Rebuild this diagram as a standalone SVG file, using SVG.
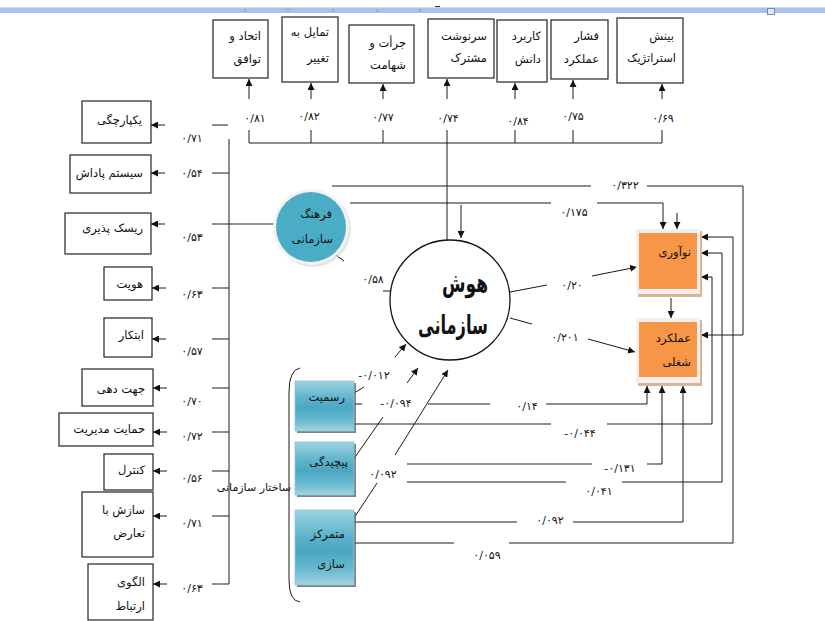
<svg xmlns="http://www.w3.org/2000/svg" width="825" height="621" viewBox="0 0 825 621">
<style>
.t{font-family:"DejaVu Sans",sans-serif;font-size:11.5px;fill:#111;text-anchor:end}
.n{font-family:"DejaVu Sans",sans-serif;font-size:11px;fill:#111;text-anchor:middle}
.box{fill:#fff;stroke:#222;stroke-width:1.2}
.ln{fill:none;stroke:#1a1a1a;stroke-width:1}
.ar{marker-end:url(#ah)}
.big{font-family:"DejaVu Sans",sans-serif;font-size:26px;font-weight:bold;fill:#111;text-anchor:end}
</style>
<defs>
<marker id="ah" viewBox="0 0 10 10" refX="10" refY="5" markerWidth="7" markerHeight="7" markerUnits="userSpaceOnUse" orient="auto">
<path d="M0,0 L10,5 L0,10 z" fill="#111"/>
</marker>
<linearGradient id="teal" x1="0" y1="0" x2="0" y2="1">
<stop offset="0" stop-color="#9fd3e1"/>
<stop offset="0.35" stop-color="#5db3cb"/>
<stop offset="0.55" stop-color="#4aa7c2"/>
<stop offset="0.8" stop-color="#6bbad0"/>
<stop offset="1" stop-color="#a2d4e2"/>
</linearGradient>
</defs>
<rect width="825" height="621" fill="#fff"/>
<!-- top ruler -->
<g id="ruler">
<rect x="0" y="7" width="825" height="6" fill="#a8c3e7"/>
<line x1="0" y1="7.5" x2="825" y2="7.5" stroke="#cbdaf0" stroke-width="1"/>
<g stroke="#8a9bb3" stroke-width="1">
<line x1="245" y1="9" x2="245" y2="12"/><line x1="288" y1="9" x2="288" y2="12"/><line x1="333" y1="9" x2="333" y2="12"/><line x1="377" y1="9" x2="377" y2="12"/><line x1="420" y1="9" x2="420" y2="12"/>
</g>
<line x1="435" y1="6.5" x2="440" y2="6.5" stroke="#333" stroke-width="1"/>
<rect x="767.5" y="8.5" width="7" height="6" fill="#dfe8f5" stroke="#7a8aa0" stroke-width="1"/>
</g>

<g id="connectors">
<!-- top arrows -->
<line class="ln ar" x1="249" y1="99" x2="249" y2="79"/>
<line class="ln ar" x1="311" y1="99" x2="311" y2="83"/>
<line class="ln ar" x1="383" y1="99" x2="383" y2="84"/>
<line class="ln ar" x1="447" y1="99" x2="447" y2="79"/>
<line class="ln ar" x1="515" y1="99" x2="515" y2="83"/>
<line class="ln ar" x1="573" y1="99" x2="573" y2="80"/>
<line class="ln ar" x1="662" y1="99" x2="662" y2="84"/>
<path class="ln" d="M249,130V143M311,130V143M383,130V143M515,130V143M573,130V143M662,130V143M447,130V240M249,143H662"/>
<!-- left bus -->
<path class="ln" d="M229,139V584M212,125H228M212,173H229M212,224H274M212,288H229M212,339H229M212,388H229M212,432H229M212,471H229M212,516H229M212,584H229"/>
<line class="ln ar" x1="165" y1="125" x2="151" y2="125"/>
<line class="ln ar" x1="165" y1="173" x2="151" y2="173"/>
<line class="ln ar" x1="165" y1="224" x2="151" y2="224"/>
<line class="ln ar" x1="166" y1="288" x2="152" y2="288"/>
<line class="ln ar" x1="166" y1="339" x2="152" y2="339"/>
<line class="ln ar" x1="167" y1="388" x2="153" y2="388"/>
<line class="ln ar" x1="167" y1="432" x2="153" y2="432"/>
<line class="ln ar" x1="167" y1="471" x2="153" y2="471"/>
<line class="ln ar" x1="167" y1="516" x2="153" y2="516"/>
<line class="ln ar" x1="167" y1="584" x2="153" y2="584"/>
<!-- farhang lines -->
<path class="ln" d="M332,186H591M350,203H551"/>
<path class="ln ar" d="M647,186H743V335H701"/>
<path class="ln ar" d="M597,203H663V229"/>
<line class="ln ar" x1="677" y1="213" x2="677" y2="229"/>
<line class="ln ar" x1="461" y1="205" x2="461" y2="238"/>
<path class="ln" d="M333,253L344,261M383,291H392"/>
<!-- hoosh to outputs -->
<line class="ln" x1="510" y1="292" x2="547" y2="285"/>
<line class="ln ar" x1="592" y1="276" x2="637" y2="267"/>
<line class="ln" x1="510" y1="318" x2="532" y2="324"/>
<line class="ln ar" x1="588" y1="339" x2="635" y2="352"/>
<line class="ln ar" x1="671" y1="298" x2="671" y2="318"/>
<!-- structure to hoosh -->
<line class="ln" x1="354" y1="393" x2="364" y2="387"/>
<line class="ln ar" x1="395" y1="357" x2="406" y2="344"/>
<line class="ln" x1="353" y1="460" x2="383" y2="417"/>
<line class="ln ar" x1="407" y1="383" x2="418" y2="368"/>
<line class="ln" x1="354" y1="518" x2="377" y2="483"/>
<line class="ln ar" x1="395" y1="455" x2="448" y2="370"/>
<!-- structure to outputs -->
<path class="ln" d="M354,404H362M428,404H490"/>
<path class="ln ar" d="M546,404H647V386"/>
<path class="ln" d="M354,424H551"/>
<path class="ln ar" d="M607,424H712V277H701"/>
<path class="ln" d="M407,464H592"/>
<path class="ln ar" d="M647,464H662V386"/>
<path class="ln" d="M407,482H566"/>
<path class="ln ar" d="M622,482H722V253H701"/>
<path class="ln" d="M354,522H517"/>
<path class="ln ar" d="M573,522H683V386"/>
<path class="ln" d="M354,543H454"/>
<path class="ln ar" d="M509,543H733V237H701"/>
<!-- brace -->
<path class="ln" d="M300,368Q289,370 289,392V580Q289,601 300,602"/>
</g>

<g id="labels">
<text class="n" x="255" y="122">۰/۸۱</text>
<text class="n" x="309" y="120">۰/۸۲</text>
<text class="n" x="383" y="121">۰/۷۷</text>
<text class="n" x="448" y="122">۰/۷۴</text>
<text class="n" x="518" y="125">۰/۸۴</text>
<text class="n" x="573" y="120">۰/۷۵</text>
<text class="n" x="663" y="122">۰/۶۹</text>
<text class="n" x="192" y="142">۰/۷۱</text>
<text class="n" x="192" y="177">۰/۵۴</text>
<text class="n" x="192" y="241">۰/۵۳</text>
<text class="n" x="192" y="298">۰/۶۳</text>
<text class="n" x="192" y="355">۰/۵۷</text>
<text class="n" x="192" y="405">۰/۷۰</text>
<text class="n" x="192" y="440">۰/۷۲</text>
<text class="n" x="192" y="482">۰/۵۶</text>
<text class="n" x="192" y="527">۰/۷۱</text>
<text class="n" x="192" y="592">۰/۶۳</text>
<text class="n" x="625" y="189">۰/۳۲۲</text>
<text class="n" x="574" y="216">۰/۱۷۵</text>
<text class="n" x="572" y="289">۰/۲۰</text>
<text class="n" x="565" y="341">۰/۲۰۱</text>
<text class="n" x="373" y="283">۰/۵۸</text>
<text class="n" x="374" y="379">-۰/۰۱۲</text>
<text class="n" x="396" y="407">-۰/۰۹۴</text>
<text class="n" x="383" y="478">۰/۰۹۲</text>
<text class="n" x="527" y="410">۰/۱۴</text>
<text class="n" x="580" y="437">-۰/۰۴۴</text>
<text class="n" x="620" y="472">-۰/۱۳۱</text>
<text class="n" x="599" y="495">۰/۰۴۱</text>
<text class="n" x="550" y="524">۰/۰۹۲</text>
<text class="n" x="487" y="559">۰/۰۵۹</text>
<text class="t" x="291" y="491" style="font-size:11px">ساختار سازمانی</text>
</g>

<!-- top boxes -->
<g id="n-ettehad"><rect class="box" x="213" y="20" width="55" height="58"/><text class="t" x="261" y="40">اتحاد و</text><text class="t" x="261" y="63">توافق</text></g>
<g id="n-tamayol"><rect class="box" x="282" y="17" width="56" height="65"/><text class="t" x="329" y="36">تمایل به</text><text class="t" x="329" y="62">تغییر</text></g>
<g id="n-jorat"><rect class="box" x="349" y="25" width="65" height="58"/><text class="t" x="406" y="47">جرأت و</text><text class="t" x="406" y="69">شهامت</text></g>
<g id="n-sarnevesht"><rect class="box" x="428" y="19" width="66" height="59"/><text class="t" x="487" y="40">سرنوشت</text><text class="t" x="487" y="62">مشترک</text></g>
<g id="n-karbord"><rect class="box" x="497" y="20" width="50" height="62"/><text class="t" x="541" y="40">کاربرد</text><text class="t" x="541" y="63">دانش</text></g>
<g id="n-feshar"><rect class="box" x="551" y="20" width="57" height="59"/><text class="t" x="599" y="40">فشار</text><text class="t" x="599" y="63">عملکرد</text></g>
<g id="n-binesh"><rect class="box" x="617" y="18" width="66" height="65"/><text class="t" x="674" y="40">بینش</text><text class="t" x="676" y="62">استراتژیک</text></g>

<!-- left boxes -->
<g id="n-yekparchegi"><rect class="box" x="82" y="101" width="69" height="42"/><text class="t" x="142" y="124">یکپارچگی</text></g>
<g id="n-padash"><rect class="box" x="70" y="155" width="81" height="38"/><text class="t" x="143" y="177">سیستم پاداش</text></g>
<g id="n-risk"><rect class="box" x="65" y="213" width="86" height="41"/><text class="t" x="143" y="232">ریسک پذیری</text></g>
<g id="n-hoviat"><rect class="box" x="104" y="267" width="48" height="33"/><text class="t" x="143" y="288">هویت</text></g>
<g id="n-ebtekar"><rect class="box" x="104" y="318" width="48" height="39"/><text class="t" x="144" y="339">ابتکار</text></g>
<g id="n-jahat"><rect class="box" x="82" y="369" width="71" height="37"/><text class="t" x="145" y="393">جهت دهی</text></g>
<g id="n-hemayat"><rect class="box" x="59" y="413" width="94" height="33"/><text class="t" x="145" y="433">حمایت مدیریت</text></g>
<g id="n-control"><rect class="box" x="104" y="454" width="49" height="36"/><text class="t" x="145" y="474">کنترل</text></g>
<g id="n-sazesh"><rect class="box" x="82" y="492" width="71" height="65"/><text class="t" x="145" y="514">سازش با</text><text class="t" x="145" y="537">تعارض</text></g>
<g id="n-olgoo"><rect class="box" x="88" y="564" width="65" height="56"/><text class="t" x="145" y="586">الگوی</text><text class="t" x="145" y="610">ارتباط</text></g>

<!-- farhang circle -->
<g id="n-farhang">
<circle cx="313" cy="229" r="38" fill="#cfd3d6" opacity="0.6"/>
<circle cx="311" cy="227" r="38" fill="#f3f3f3"/>
<circle cx="311" cy="227" r="35" fill="#4bacc6"/>
<text class="t" x="332" y="218">فرهنگ</text>
<text class="t" x="333" y="243">سازمانی</text>
</g>

<!-- main circle -->
<g id="n-hoosh">
<circle cx="450" cy="300" r="60" fill="#fff" stroke="#111" stroke-width="1.3"/>
<text class="big" x="488" y="292" textLength="46" lengthAdjust="spacingAndGlyphs">هوش</text>
<text class="big" x="488" y="334" textLength="70" lengthAdjust="spacingAndGlyphs">سازمانی</text>
</g>

<!-- orange boxes -->
<g id="n-noavari">
<rect x="638" y="231" width="64" height="66" fill="#d8b595"/>
<rect x="636" y="229" width="64" height="65" fill="#f2efec"/>
<rect x="639" y="233" width="58" height="56" fill="#f79646"/>
<text class="t" x="691" y="256">نوآوری</text>
</g>
<g id="n-amalkard">
<rect x="638" y="320" width="64" height="66" fill="#d8b595"/>
<rect x="636" y="318" width="64" height="65" fill="#f2efec"/>
<rect x="639" y="322" width="58" height="55" fill="#f79646"/>
<text class="t" x="691" y="342">عملکرد</text>
<text class="t" x="691" y="366">شغلی</text>
</g>

<!-- teal structure boxes -->
<g id="n-rasmiat">
<rect x="297" y="383" width="59" height="50" fill="#555" opacity="0.75"/>
<rect x="295" y="381" width="59" height="50" fill="url(#teal)" stroke="#8cc6d6" stroke-width="0.8"/>
<text class="t" x="345" y="401">رسمیت</text>
</g>
<g id="n-pichidegi">
<rect x="297" y="444" width="59" height="53" fill="#555" opacity="0.75"/>
<rect x="295" y="442" width="59" height="53" fill="url(#teal)" stroke="#8cc6d6" stroke-width="0.8"/>
<text class="t" x="348" y="466">پیچیدگی</text>
</g>
<g id="n-tamarkoz">
<rect x="297" y="512" width="59" height="75" fill="#555" opacity="0.75"/>
<rect x="295" y="510" width="59" height="75" fill="url(#teal)" stroke="#8cc6d6" stroke-width="0.8"/>
<text class="t" x="345" y="538">متمرکز</text>
<text class="t" x="345" y="568">سازی</text>
</g>
</svg>
